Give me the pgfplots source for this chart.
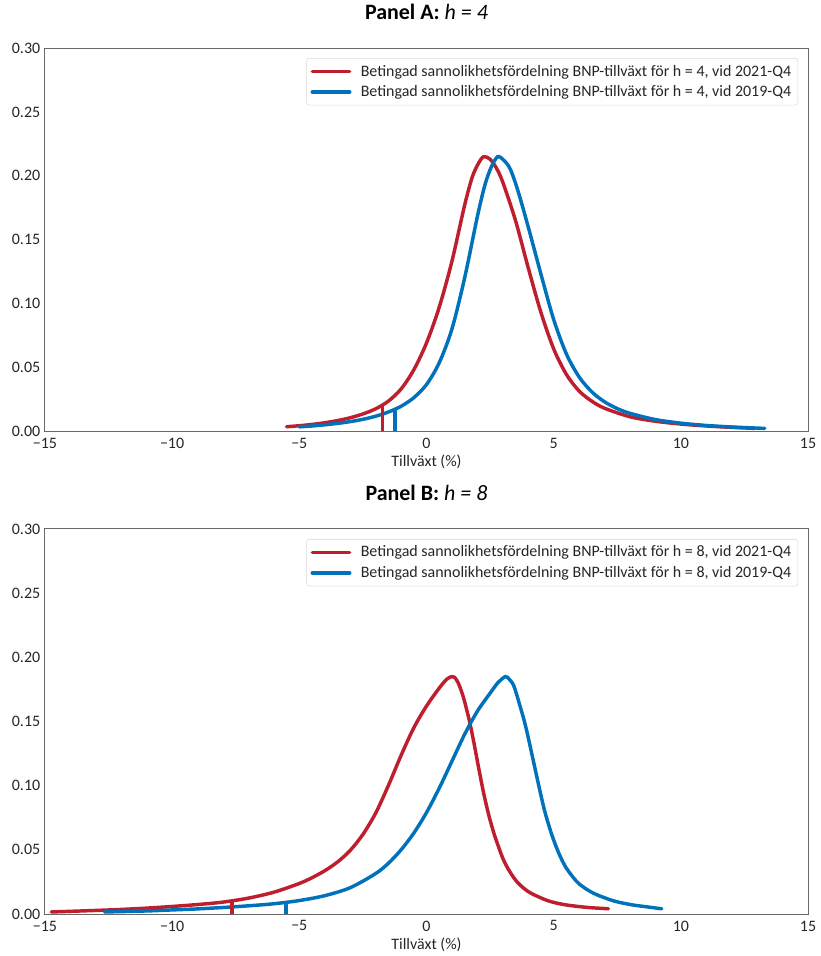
\documentclass[border=0pt]{standalone}
\usepackage{fontspec}
\setmainfont{Carlito}
\usepackage{pgfplots}
\pgfplotsset{compat=1.18}
\definecolor{rbred}{RGB}{190,30,45}
\definecolor{rbblue}{RGB}{0,114,188}
\definecolor{spine}{RGB}{105,105,105}

\pgfplotsset{
  panel/.style={
    scale only axis,
    width=573.75pt,
    xmin=-15, xmax=15, ymin=0, ymax=0.30,
    xtick={-15,-10,-5,0,5,10,15},
    xticklabels={−15,−10,−5,0,5,10,15},
    ytick={0,0.05,0.10,0.15,0.20,0.25,0.30},
    yticklabels={0.00,0.05,0.10,0.15,0.20,0.25,0.30},
    major tick length=0pt,
    axis line style={spine, line width=0.8pt},
    tick label style={font=\fontsize{12}{14}\selectfont, text=black!85},
    xticklabel style={yshift=-1.5pt},
    xlabel={Tillväxt (\%)},
    xlabel style={font=\fontsize{12}{14}\selectfont, text=black!85,
      at={(axis description cs:0.5,0)}, anchor=center, yshift=-23pt},
    title style={font=\fontsize{16.5}{18}\selectfont,
      at={(axis description cs:0.5,1)}, anchor=center, yshift=21pt},
    legend style={at={(0.987,0.974)}, anchor=north east, draw=black!15,
      rounded corners=2pt, font=\fontsize{12}{14}\selectfont, text=black!85,
      inner xsep=3pt, inner ysep=3pt, row sep=1.5pt, column sep=5pt},
    legend cell align=left,
    legend image code/.code={\draw[#1, line width=2.8pt] (-3pt,0pt) -- (25pt,0pt);},
    every axis plot/.append style={no marks, line width=2.6pt, line cap=round},
  }
}

\begin{document}
\begin{tikzpicture}

% Panel A
\begin{axis}[panel, height=288pt, at={(0,0)},
  title={\textbf{Panel A:} \textit{h = 4}}]
\addplot[rbred, smooth, tension=0.5] coordinates {
(-5.5,0.0035) (-5.0,0.0043) (-4.5,0.0053) (-4.0,0.0066) (-3.5,0.0083)
(-3.0,0.0105) (-2.5,0.0135) (-2.0,0.0175) (-1.5,0.0235) (-1.0,0.0330)
(-0.5,0.0480) (0.0,0.0690) (0.5,0.0970) (1.0,0.1330) (1.5,0.1770)
(1.8,0.1990) (2.05,0.2100) (2.25,0.2150) (2.5,0.2130) (2.75,0.2060)
(3.0,0.1950) (3.5,0.1650) (4.0,0.1280) (4.5,0.0930) (5.0,0.0645)
(5.5,0.0445) (6.0,0.0315) (6.5,0.0235) (7.0,0.0180) (8.0,0.0113)
(9.0,0.0078) (10.0,0.0056) (11.0,0.0041) (12.0,0.0030) (12.9,0.0022)
};
\addplot[rbblue, smooth, tension=0.5] coordinates {
(-5.0,0.0034) (-4.5,0.0041) (-4.0,0.0050) (-3.5,0.0061) (-3.0,0.0075)
(-2.5,0.0093) (-2.0,0.0117) (-1.5,0.0150) (-1.0,0.0195) (-0.5,0.0262)
(0.0,0.0365) (0.5,0.0535) (1.0,0.0800) (1.5,0.1200) (2.0,0.1680)
(2.3,0.1930) (2.55,0.2070) (2.8,0.2150) (3.05,0.2120) (3.3,0.2050)
(3.6,0.1880) (4.0,0.1600) (4.5,0.1230) (5.0,0.0875) (5.5,0.0605)
(6.0,0.0425) (6.5,0.0308) (7.0,0.0230) (7.5,0.0177) (8.0,0.0140)
(9.0,0.0091) (10.0,0.0063) (11.0,0.0045) (12.0,0.0033) (13.3,0.0022)
};
\addplot[rbred, line cap=butt, forget plot] coordinates {(-1.73,0) (-1.73,0.0210)};
\addplot[rbblue, line cap=butt, forget plot] coordinates {(-1.24,0) (-1.24,0.0180)};
\legend{{Betingad sannolikhetsfördelning BNP-tillväxt för h = 4, vid 2021-Q4},
        {Betingad sannolikhetsfördelning BNP-tillväxt för h = 4, vid 2019-Q4}}
\end{axis}

% Panel B
\begin{axis}[panel, height=289.5pt, at={(0,-363pt)},
  title={\textbf{Panel B:} \textit{h = 8}}]
\addplot[rbred, smooth, tension=0.5] coordinates {
(-14.75,0.0016) (-13.0,0.0028) (-12.0,0.0036) (-11.0,0.0046) (-10.0,0.0059)
(-9.0,0.0074) (-8.0,0.0093) (-7.0,0.0124) (-6.0,0.0170) (-5.0,0.0238)
(-4.5,0.0283) (-4.0,0.0337) (-3.5,0.0405) (-3.0,0.0495) (-2.5,0.0620)
(-2.0,0.0785) (-1.5,0.1000) (-1.0,0.1235) (-0.5,0.1450) (0.0,0.1620)
(0.5,0.1760) (0.8,0.1830) (1.0,0.1850) (1.1,0.1845) (1.25,0.1800)
(1.45,0.1690) (1.67,0.1520) (1.85,0.1350) (2.06,0.1130) (2.25,0.0940)
(2.45,0.0770) (2.65,0.0630) (2.84,0.0520) (3.0,0.0435) (3.2,0.0355)
(3.5,0.0265) (3.8,0.0205) (4.15,0.0158) (4.8,0.0102) (5.46,0.0072)
(6.3,0.0052) (7.15,0.0041)
};
\addplot[rbblue, smooth, tension=0.5] coordinates {
(-12.65,0.0016) (-11.0,0.0024) (-10.0,0.0032) (-9.0,0.0040) (-8.0,0.0051)
(-7.0,0.0064) (-6.0,0.0080) (-5.0,0.0105) (-4.0,0.0143) (-3.0,0.0205)
(-2.0,0.0315) (-1.5,0.0395) (-1.0,0.0500) (-0.5,0.0630) (0.0,0.0790)
(0.5,0.0980) (1.0,0.1190) (1.5,0.1400) (2.0,0.1580) (2.5,0.1720)
(2.8,0.1800) (3.1,0.1850) (3.25,0.1830) (3.43,0.1780) (3.65,0.1640)
(3.89,0.1470) (4.15,0.1240) (4.41,0.1005) (4.65,0.0800) (4.93,0.0616)
(5.2,0.0475) (5.46,0.0370) (5.75,0.0290) (6.0,0.0235) (6.4,0.0180)
(6.76,0.0145) (7.4,0.0100) (8.07,0.0072) (8.7,0.0055) (9.25,0.0041)
};
\addplot[rbred, line cap=butt, forget plot] coordinates {(-7.64,0) (-7.64,0.0102)};
\addplot[rbblue, line cap=butt, forget plot] coordinates {(-5.52,0) (-5.52,0.0092)};
\legend{{Betingad sannolikhetsfördelning BNP-tillväxt för h = 8, vid 2021-Q4},
        {Betingad sannolikhetsfördelning BNP-tillväxt för h = 8, vid 2019-Q4}}
\end{axis}

% page frame with the reference's margins
\path (-33.75pt,-393pt) rectangle (580.5pt,324pt);
\end{tikzpicture}
\end{document}
